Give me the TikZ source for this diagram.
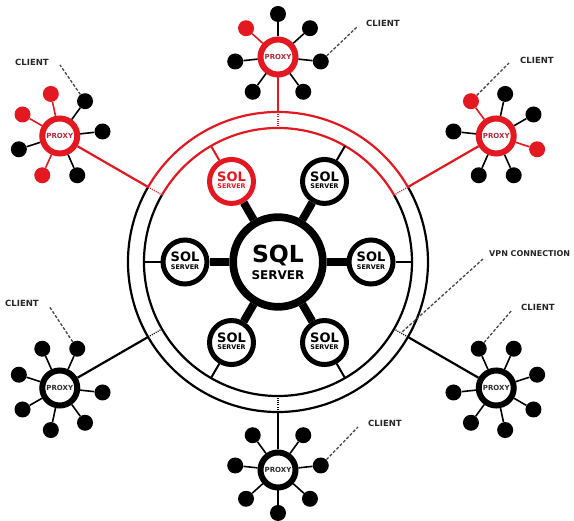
\documentclass[tikz,border=0pt]{standalone}
\usepackage{fontspec}
\setmainfont{DejaVu Sans}
\usetikzlibrary{calc}
\definecolor{rd}{RGB}{228,24,32}
\definecolor{rdtxt}{RGB}{185,40,55}
\definecolor{pxtxt}{RGB}{45,45,45}
\definecolor{ldr}{RGB}{70,70,70}
\tikzset{
  ringline/.style={line width=2.2pt},
  linkline/.style={line width=2.2pt},
  gapdot/.style={line width=1.3pt, dash pattern=on 1pt off 1.2pt},
  hubspoke/.style={line width=8pt},
  satspoke/.style={line width=2pt},
  cspoke/.style={line width=1.6pt},
  leader/.style={draw=ldr, line width=1.3pt, dash pattern=on 3pt off 1.8pt},
  hubnode/.style={circle, draw, line width=7.7pt, minimum size=89.7pt, inner sep=0pt, fill=white},
  satnode/.style={circle, draw, line width=5pt, minimum size=44pt, inner sep=0pt, fill=white},
  proxynode/.style={circle, draw, line width=6pt, minimum size=35pt, inner sep=0pt, fill=white, font=\bfseries\fontsize{7}{7}\selectfont},
  clientdot/.style={circle, fill, minimum size=16pt, inner sep=0pt},
  lbl/.style={inner sep=0pt, font=\bfseries\fontsize{8.5}{8.5}\selectfont, text=black!85},
  txt/.style={inner sep=0pt},
}
\newcommand\drawproxy[6]{%
  \node[proxynode, draw=#4, text=#5] (#1) at ($(C)+(#2:#3)$) {PROXY};
  \coordinate (#1o) at ($(C)+(#2:150)$);
  \coordinate (#1i) at ($(C)+(#2:134)$);
  \draw[linkline, draw=#4] (#1) -- (#1o);
  \draw[gapdot, draw=#4] (#1o) -- (#1i);
  \foreach \o/\c/\k in {#6}{
    \node[clientdot, fill=\c] (#1c\k) at ($(#1)+({#2+180+\o}:43)$) {};
    \draw[cspoke, draw=\c] (#1) -- (#1c\k);
  }
}
\begin{document}
\begin{tikzpicture}[x=1pt,y=1pt]
\useasboundingbox (0,0) rectangle (574,521);
\coordinate (C) at (278,259);
% rings
\draw[ringline] ($(C)+(150:150)$) arc[start angle=150, end angle=390, radius=150];
\draw[ringline] ($(C)+(150:134)$) arc[start angle=150, end angle=390, radius=134];
\draw[ringline, rd] ($(C)+(30:150)$) arc[start angle=30, end angle=150, radius=150];
\draw[ringline, rd] ($(C)+(30:134)$) arc[start angle=30, end angle=150, radius=134];
% proxies
\drawproxy{p1}{90}{205}{rd}{rdtxt}{36/black/1, -36/black/2, 84/black/3, -84/black/4, 132/black/5, -132/rd/6, 180/black/7}
\drawproxy{p2}{150}{252}{rd}{rdtxt}{36/black/1, -36/black/2, 84/black/3, -84/rd/4, 132/rd/5, -132/black/6, 180/rd/7}
\drawproxy{p3}{30}{252}{rd}{rdtxt}{36/black/1, -36/black/2, 84/black/3, -84/rd/4, 132/rd/5, -132/black/6, 180/black/7}
\drawproxy{p4}{210}{252}{black}{pxtxt}{36/black/1, -36/black/2, 84/black/3, -84/black/4, 132/black/5, -132/black/6, 180/black/7}
\drawproxy{p5}{330}{252}{black}{pxtxt}{36/black/1, -36/black/2, 84/black/3, -84/black/4, 132/black/5, -132/black/6, 180/black/7}
\drawproxy{p6}{270}{208}{black}{pxtxt}{36/black/1, -36/black/2, 84/black/3, -84/black/4, 132/black/5, -132/black/6, 180/black/7}
% hub and satellites
\node[hubnode] (hub) at (C) {};
\foreach \a/\k/\c in {0/1/black, 60/2/black, 120/3/rd, 180/4/black, 240/5/black, 300/6/black}{
  \coordinate (r\k) at ($(C)+(\a:134)$);
  \node[satnode, draw=\c] (s\k) at ($(C)+(\a:93)$) {};
  \draw[hubspoke] (hub) -- (s\k);
  \draw[satspoke, draw=\c] (s\k) -- (r\k);
  \node[txt, text=\c, font=\bfseries\fontsize{13}{13}\selectfont] (s\k-t) at ($(s\k)+(0,5)$) {SOL};
  \node[txt, text=\c, font=\bfseries\fontsize{6.4}{6.4}\selectfont] (s\k-b) at ($(s\k)+(0,-5)$) {SERVER};
}
\node[txt, anchor=base, font=\bfseries\fontsize{23.5}{23.5}\selectfont] (hubt) at ($(C)+(0,-0.5)$) {SQL};
\node[txt, anchor=base, font=\bfseries\fontsize{12}{12}\selectfont] (hubb) at ($(C)+(0,-17.3)$) {SERVER};
% leaders and labels
\coordinate (l1) at (357,494);
\draw[leader] (p1c3) -- (l1);
\node[lbl] (t1) at (383,498) {CLIENT};
\coordinate (l2) at (60,456);
\draw[leader] (p2c3) -- (l2);
\node[lbl] (t2) at (32,459) {CLIENT};
\coordinate (l3) at (509,458);
\draw[leader] (p3c4) -- (l3);
\node[lbl] (t3) at (537,461) {CLIENT};
\coordinate (l4) at (49,215);
\draw[leader] (p4c1) -- (l4);
\node[lbl] (t4) at (22,218) {CLIENT};
\coordinate (l5) at (512,211);
\draw[leader] (p5c2) -- (l5);
\node[lbl] (t5) at (538,214) {CLIENT};
\coordinate (l6) at (358,94);
\draw[leader] (p6c4) -- (l6);
\node[lbl] (t6) at (385,98) {CLIENT};
\coordinate (lv) at (483,262);
\coordinate (g5) at ($(p5o)!0.5!(p5i)$);
\draw[leader] (lv) -- (g5);
\node[lbl, anchor=west, font=\bfseries\fontsize{8}{8}\selectfont] (tv) at (489,267) {VPN CONNECTION};
\end{tikzpicture}
\end{document}
